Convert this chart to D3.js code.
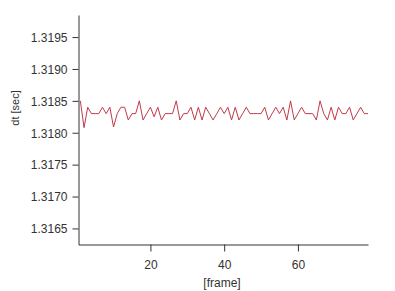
<!DOCTYPE html>
<html>
<head>
<meta charset="utf-8">
<script src="https://cdn.jsdelivr.net/npm/d3@7"></script>
<style>
  body { margin: 0; background: #fff; }
  svg { display: block; font-family: Arial, "Liberation Sans", sans-serif; }
  .axis text { fill: #333; font-size: 12px; }
  .axis path, .axis line { stroke: #333; }
</style>
</head>
<body>
<svg id="chart" width="395" height="291"></svg>
<script>
// dt per frame
const dtValues = [
  1.3185, 1.31808, 1.3184, 1.3183, 1.3183, 1.3183, 1.3184, 1.3183, 1.3184, 1.31809,
  1.3183, 1.3184, 1.3184, 1.3182, 1.3183, 1.3183, 1.3185, 1.3182, 1.3183, 1.3184,
  1.31825, 1.3184, 1.3182, 1.3183, 1.3183, 1.3183, 1.3185, 1.3182, 1.3183, 1.3183,
  1.3184, 1.3182, 1.3184, 1.3182, 1.3184, 1.3183, 1.3182, 1.3183, 1.3184, 1.3183,
  1.3184, 1.3182, 1.3184, 1.3182, 1.3183, 1.3184, 1.3183, 1.3183, 1.3183, 1.3183,
  1.3184, 1.3182, 1.3183, 1.3184, 1.3183, 1.3184, 1.3182, 1.3185, 1.3182, 1.3183,
  1.3184, 1.3183, 1.3183, 1.3183, 1.3182, 1.3185, 1.3183, 1.3182, 1.3184, 1.3182,
  1.3184, 1.3183, 1.3183, 1.3184, 1.3182, 1.3183, 1.3184, 1.3183, 1.3183
];
const frames = dtValues.map((d, i) => i + 1);
const yTicks = [1.3165, 1.3170, 1.3175, 1.3180, 1.3185, 1.3190, 1.3195];
const xTicks = [20, 40, 60];

const svg = d3.select("#chart");
const plotLeft = 78.5, plotRight = 368, plotTop = 15, plotBottom = 244.5;

const x = d3.scaleLinear().domain([0.5, 79]).range([plotLeft, plotRight]);
const y = d3.scaleLinear().domain([1.316248, 1.319846]).range([plotBottom, plotTop]);

svg.append("g")
    .attr("class", "axis")
    .attr("transform", "translate(" + plotLeft + ",0)")
    .call(d3.axisLeft(y).tickValues(yTicks).tickFormat(d3.format(".4f"))
        .tickSize(6).tickSizeOuter(0).tickPadding(5))
    .call(g => g.selectAll("text").attr("dy", "0.36em"));

svg.append("g")
    .attr("class", "axis")
    .attr("transform", "translate(0," + plotBottom + ")")
    .call(d3.axisBottom(x).tickValues(xTicks).tickSize(7).tickSizeOuter(0).tickPadding(9));

const line = d3.line()
    .x((d, i) => x(frames[i]))
    .y(d => y(d));

svg.append("path")
    .datum(dtValues)
    .attr("fill", "none")
    .attr("stroke", "#c23a48")
    .attr("stroke-width", 1)
    .attr("d", line);

svg.append("text")
    .attr("transform", "translate(19,108) rotate(-90)")
    .attr("text-anchor", "middle")
    .attr("font-size", 11)
    .attr("fill", "#333")
    .text("dt [sec]");

svg.append("text")
    .attr("x", 222)
    .attr("y", 287)
    .attr("text-anchor", "middle")
    .attr("font-size", 12)
    .attr("fill", "#333")
    .text("[frame]");
</script>
</body>
</html>
